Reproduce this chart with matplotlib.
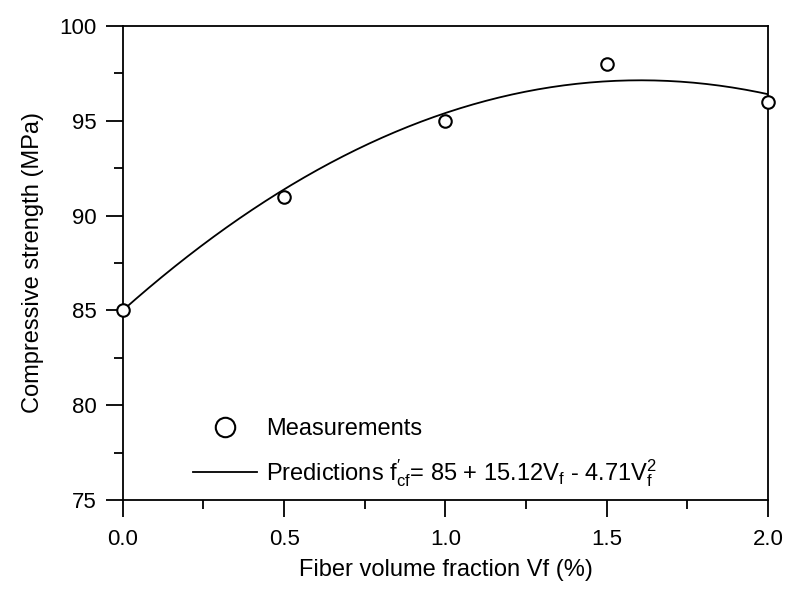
import numpy as np
import matplotlib
matplotlib.use("Agg")
import matplotlib.pyplot as plt
from matplotlib.ticker import MultipleLocator, FormatStrFormatter

plt.rcParams['font.family'] = ['Liberation Sans', 'DejaVu Sans']
plt.rcParams['mathtext.fontset'] = 'custom'
plt.rcParams['mathtext.rm'] = 'Liberation Sans'
plt.rcParams['mathtext.it'] = 'Liberation Sans'

# measured compressive strength
vf_measured = [0.0, 0.5, 1.0, 1.5, 2.0]
strength_measured = [85.0, 91.0, 95.0, 98.0, 96.0]

# prediction f'cf = 85 + 15.12 Vf - 4.71 Vf^2 (coefficients from the legend)
pred_coef = [-4.71, 15.12, 85.0]
vf_range = [0.0, 2.0]

x_ticks = [0.0, 0.5, 1.0, 1.5, 2.0]
y_ticks = [75, 80, 85, 90, 95, 100]

fig = plt.figure(figsize=(7.87, 5.90), dpi=100)
ax = fig.add_axes([0.156, 0.1525, 0.82, 0.8035])

vf_line = np.linspace(vf_range[0], vf_range[1], 200)
ax.plot(vf_line, np.polyval(pred_coef, vf_line), color='black', lw=1.3,
        label=r"Predictions $\mathregular{f^{\prime}_{cf}}$= 85 + 15.12V$\mathregular{_f}$ - 4.71V$\mathregular{_f^2}$")
ax.plot(vf_measured, strength_measured, 'o', ms=9, mfc='white', mec='black', mew=1.5,
        clip_on=False, label='Measurements', zorder=5)

ax.set_xlim(0, 2.0)
ax.set_ylim(75, 100)
ax.set_xticks(x_ticks)
ax.set_yticks(y_ticks)
ax.xaxis.set_major_formatter(FormatStrFormatter('%.1f'))
ax.xaxis.set_minor_locator(MultipleLocator(0.25))
ax.yaxis.set_minor_locator(MultipleLocator(2.5))
ax.tick_params(which='major', direction='out', length=12, width=1.3, labelsize=16)
ax.tick_params(axis='x', which='major', pad=9)
ax.tick_params(axis='y', which='major', pad=7)
ax.tick_params(which='minor', direction='out', length=6.5, width=1.3)
ax.tick_params(top=False, right=False)
for s in ax.spines.values():
    s.set_linewidth(1.3)

ax.set_xlabel('Fiber volume fraction Vf (%)', fontsize=17, labelpad=6)
ax.set_ylabel('Compressive strength (MPa)', fontsize=17, labelpad=11)

h, l = ax.get_legend_handles_labels()
leg = ax.legend(h[::-1], l[::-1], loc='lower left', bbox_to_anchor=(0.083, -0.012),
                frameon=False, fontsize=17, handlelength=2.7, handletextpad=0.4,
                labelspacing=0.75, borderpad=0.2)
leg.legend_handles[0].set_markersize(14)

fig.savefig('out.png', dpi=100)
